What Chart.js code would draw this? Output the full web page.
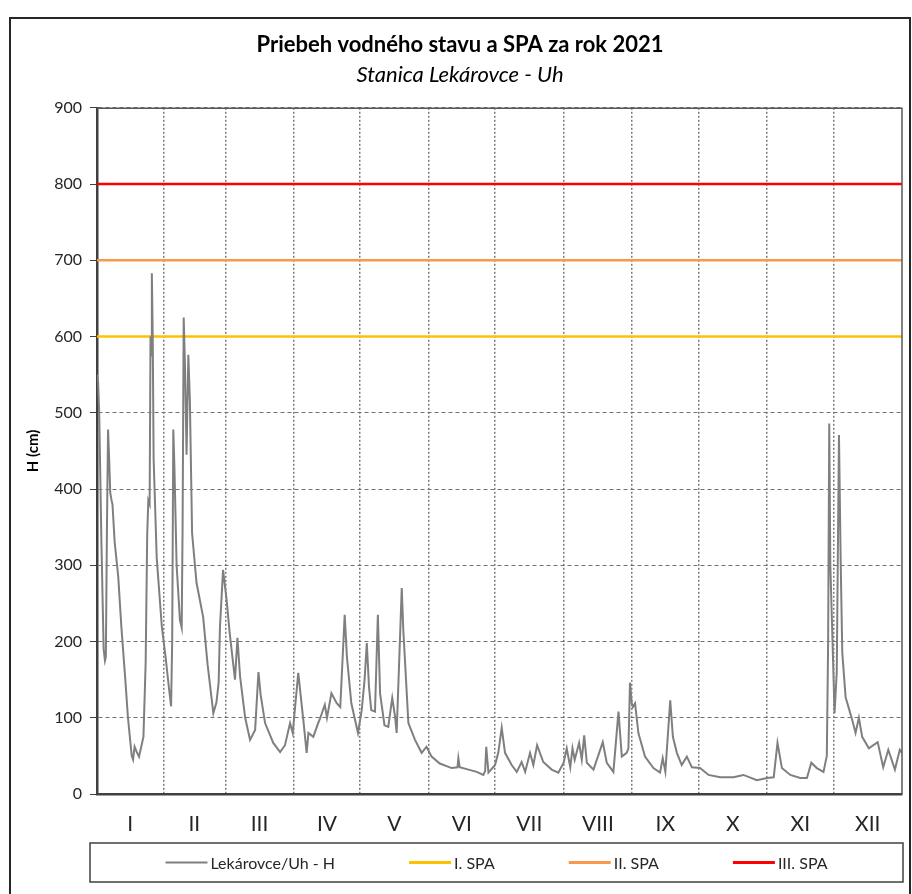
<!DOCTYPE html>
<html>
<head>
<meta charset="utf-8">
<title>Priebeh vodného stavu a SPA za rok 2021</title>
<script src="https://cdn.jsdelivr.net/npm/chart.js@4.4.0/dist/chart.umd.min.js"></script>
<style>
  html, body { margin: 0; padding: 0; background: #fff; }
  canvas { display: block; }
</style>
</head>
<body>
<canvas id="chart" width="912" height="894"></canvas>
<script>
// water level H (cm) at Lekárovce - Uh
// dayIdx = day of year, 0 = 1 January 2021
var dayIdx = [0, 0.5, 1, 2, 3, 3.6, 4, 4.5, 5, 5.5, 6, 6.6, 7, 8, 9.6, 11, 12.7, 14, 15.7, 16.3,
  17, 18, 19, 21, 22, 22.7, 23.2, 23.8, 24.2, 24.5, 24.8, 25.2, 25.6, 27, 29.3, 31, 32.5, 33.5, 34, 34.5,
  35, 36, 37.5, 38.3, 38.7, 39.2, 39.8, 40.5, 41.3, 42, 43, 45, 48, 50, 52.6, 54, 55, 55.6, 57, 58.6,
  60, 62.4, 63.5, 64.7, 67, 69.2, 71.5, 73, 74, 76, 79.7, 82.8, 85, 87.3, 88.5, 91, 93.3, 94.8, 95.6, 97.8,
  100, 101, 103, 104, 106, 108.4, 110, 112, 113, 115, 118, 119.7, 121, 122, 123, 124, 125.7, 127, 128, 130,
  131.7, 133.5, 134.8, 135.5, 137.8, 138.5, 140.8, 143.8, 146.8, 149, 151.3, 155, 160.4, 163, 163.4, 164, 168, 171.7, 174.7, 175.5,
  176, 177, 180, 181.5, 183, 184.5, 187.5, 189.8, 192, 193.6, 195.8, 197.3, 199, 201.8, 205.6, 208.6, 211, 212.4, 214, 215,
  216, 218, 219.2, 220.3, 221.5, 224.5, 228.7, 230.5, 233.5, 235.8, 237.3, 239.5, 240.3, 241, 241.8, 242.3, 243.3, 244.8, 247.8, 251.6,
  254.6, 255.8, 257, 259.2, 260.4, 262.2, 264.4, 266.7, 269, 272.7, 276.5, 281.8, 287.8, 292.3, 298.4, 303, 306, 307.7, 309.7, 313.5,
  318, 321, 323, 325.5, 328.5, 330, 330.6, 331.1, 331.6, 333.5, 334.5, 335.5, 336.3, 337, 338.5, 340.2, 341.5, 343, 344.5, 346,
  349, 353, 355.5, 357.8, 360.8, 363, 364];
var levelCm = [550, 540, 500, 330, 190, 175, 180, 350, 478, 440, 395, 385, 380, 330, 285, 220, 154, 100, 50, 45,
  62, 55, 49, 75, 172, 340, 385, 380, 600, 575, 683, 600, 440, 310, 220, 180, 140, 115, 200, 478,
  430, 300, 228, 218, 350, 625, 560, 445, 576, 515, 342, 277, 232, 170, 106, 120, 146, 219, 294, 255,
  211, 150, 205, 154, 100, 71, 84, 160, 130, 93, 67, 55, 64, 93, 80, 159, 97, 54, 80, 75,
  93, 100, 117, 100, 132, 119, 114, 235, 180, 119, 80, 110, 150, 198, 140, 110, 108, 235, 132, 90,
  88, 126, 101, 80, 270, 215, 93, 71, 54, 62, 49, 40, 34, 35, 47, 35, 32, 29, 25, 30,
  62, 28, 38, 55, 87, 54, 38, 29, 42, 29, 54, 38, 64, 42, 32, 28, 41, 60, 35, 60,
  45, 67, 45, 77, 41, 32, 68, 41, 29, 108, 49, 54, 60, 146, 119, 114, 119, 80, 49, 34,
  28, 47, 29, 123, 75, 54, 38, 49, 35, 34, 25, 22, 22, 25, 18, 21, 22, 67, 34, 25,
  21, 21, 41, 34, 29, 50, 200, 486, 300, 106, 160, 471, 300, 185, 127, 110, 97, 80, 100, 75,
  60, 68, 35, 58, 32, 58, 54];

// flood activity levels (SPA)
var spaNames = ['I. SPA', 'II. SPA', 'III. SPA'];
var spaLevels = [600, 700, 800];
var spaColors = ['#FFC000', '#F79A4B', '#FF0000'];

// last day index of each month (vertical grid) and month labels
var monthEnds = [30, 58, 89, 119, 150, 180, 211, 242, 272, 303, 333];
var monthLabels = ['I', 'II', 'III', 'IV', 'V', 'VI', 'VII', 'VIII', 'IX', 'X', 'XI', 'XII'];
var yTicks = [0, 100, 200, 300, 400, 500, 600, 700, 800, 900];

var lastDay = 364;
var bounds = [0].concat(monthEnds, [lastDay]);
var monthMids = monthLabels.map(function (m, i) { return (bounds[i] + bounds[i + 1]) / 2; });

var FONT = 'Lato, "Open Sans", sans-serif';

var datasets = [{
  label: 'Lekárovce/Uh - H',
  data: dayIdx.map(function (d, i) { return { x: d, y: levelCm[i] }; }),
  borderColor: '#7F7F7F',
  backgroundColor: '#7F7F7F',
  borderWidth: 2,
  pointRadius: 0,
  tension: 0
}];
spaLevels.forEach(function (lvl, i) {
  datasets.push({
    label: spaNames[i],
    data: [{ x: 0, y: lvl }, { x: lastDay, y: lvl }],
    borderColor: spaColors[i],
    backgroundColor: spaColors[i],
    borderWidth: 2.5,
    pointRadius: 0
  });
});

// outer frame, plot frame and boxed legend
var decor = {
  id: 'decor',
  beforeDraw: function (chart) {
    var ctx = chart.ctx;
    ctx.save();
    ctx.fillStyle = '#fff';
    ctx.fillRect(0, 0, chart.width, chart.height);
    ctx.restore();
  },
  afterDraw: function (chart) {
    var ctx = chart.ctx, a = chart.chartArea;
    ctx.save();
    // whole chart border
    ctx.strokeStyle = '#262626';
    ctx.lineWidth = 2;
    ctx.strokeRect(10, 18, chart.width - 12, chart.height + 10);
    // top + right of plot area
    ctx.strokeStyle = '#595959';
    ctx.lineWidth = 1.5;
    ctx.beginPath();
    ctx.moveTo(a.left, a.top + 0.5);
    ctx.lineTo(a.right, a.top + 0.5);
    ctx.lineTo(a.right, a.bottom);
    ctx.stroke();

    // legend
    var top = a.bottom + 49, h = 39;
    var left = a.left - 7, right = a.right + 1;
    ctx.strokeStyle = '#404040';
    ctx.lineWidth = 1.5;
    ctx.strokeRect(left, top, right - left, h);
    ctx.font = '16px ' + FONT;
    ctx.textBaseline = 'middle';
    var lineLen = 42, gapText = 3, gapItem = 74, total = 0;
    var items = chart.data.datasets.map(function (ds, i) {
      var w = ctx.measureText(ds.label).width;
      total += lineLen + gapText + w + (i ? gapItem : 0);
      return { text: ds.label, color: ds.borderColor, lw: i ? 3 : 2, w: w };
    });
    var x = (left + right) / 2 - total / 2;
    var y = top + h / 2;
    items.forEach(function (it) {
      ctx.strokeStyle = it.color;
      ctx.lineWidth = it.lw;
      ctx.beginPath();
      ctx.moveTo(x, y);
      ctx.lineTo(x + lineLen, y);
      ctx.stroke();
      ctx.fillStyle = '#262626';
      ctx.fillText(it.text, x + lineLen + gapText, y + 1);
      x += lineLen + gapText + it.w + gapItem;
    });
    ctx.restore();
  }
};

new Chart(document.getElementById('chart'), {
  type: 'line',
  data: { datasets: datasets },
  plugins: [decor],
  options: {
    responsive: false,
    animation: false,
    layout: { padding: { left: 18, right: 10, top: 0, bottom: 56 } },
    plugins: {
      legend: { display: false },
      tooltip: { enabled: false },
      title: {
        display: true,
        text: 'Priebeh vodného stavu a SPA za rok 2021',
        color: '#000',
        font: { family: FONT, size: 22, weight: 'bold' },
        padding: { top: 32, bottom: 2 }
      },
      subtitle: {
        display: true,
        text: 'Stanica Lekárovce - Uh',
        color: '#000',
        font: { family: FONT, size: 22, style: 'italic' },
        padding: { top: 1, bottom: 20 }
      }
    },
    scales: {
      x: {
        type: 'linear',
        min: 0,
        max: lastDay,
        afterBuildTicks: function (axis) {
          axis.ticks = monthEnds.map(function (v) { return { value: v }; });
        },
        afterFit: function (axis) { axis.height = 0; },
        ticks: { display: false },
        grid: { color: '#7A7A7A', lineWidth: 1.5, drawTicks: false },
        border: { color: '#404040', width: 2.5, dash: [2, 2] }
      },
      months: {
        type: 'linear',
        position: 'bottom',
        min: 0,
        max: lastDay,
        afterBuildTicks: function (axis) {
          axis.ticks = monthMids.map(function (v) { return { value: v }; });
        },
        afterFit: function (axis) { axis.height = 44; },
        ticks: {
          autoSkip: false,
          maxRotation: 0,
          padding: 18,
          color: '#262626',
          font: { family: FONT, size: 21 },
          callback: function (v, i) { return monthLabels[i]; }
        },
        grid: { display: false, drawTicks: false },
        border: { display: false }
      },
      y: {
        min: 0,
        max: 900,
        afterBuildTicks: function (axis) {
          axis.ticks = yTicks.map(function (v) { return { value: v }; });
        },
        afterFit: function (axis) { axis.width = 97 - 18; },
        ticks: { color: '#262626', padding: 8, font: { family: FONT, size: 16 } },
        grid: { color: '#737373', lineWidth: 1, tickLength: 7, tickColor: '#404040', tickBorderDash: [] },
        border: { color: '#404040', width: 2.5, dash: [4, 3] },
        title: {
          display: true,
          text: 'H (cm)',
          color: '#000',
          font: { family: FONT, size: 15, weight: 'bold' },
          padding: { top: 6, bottom: 0 }
        }
      }
    }
  }
});
</script>
</body>
</html>
